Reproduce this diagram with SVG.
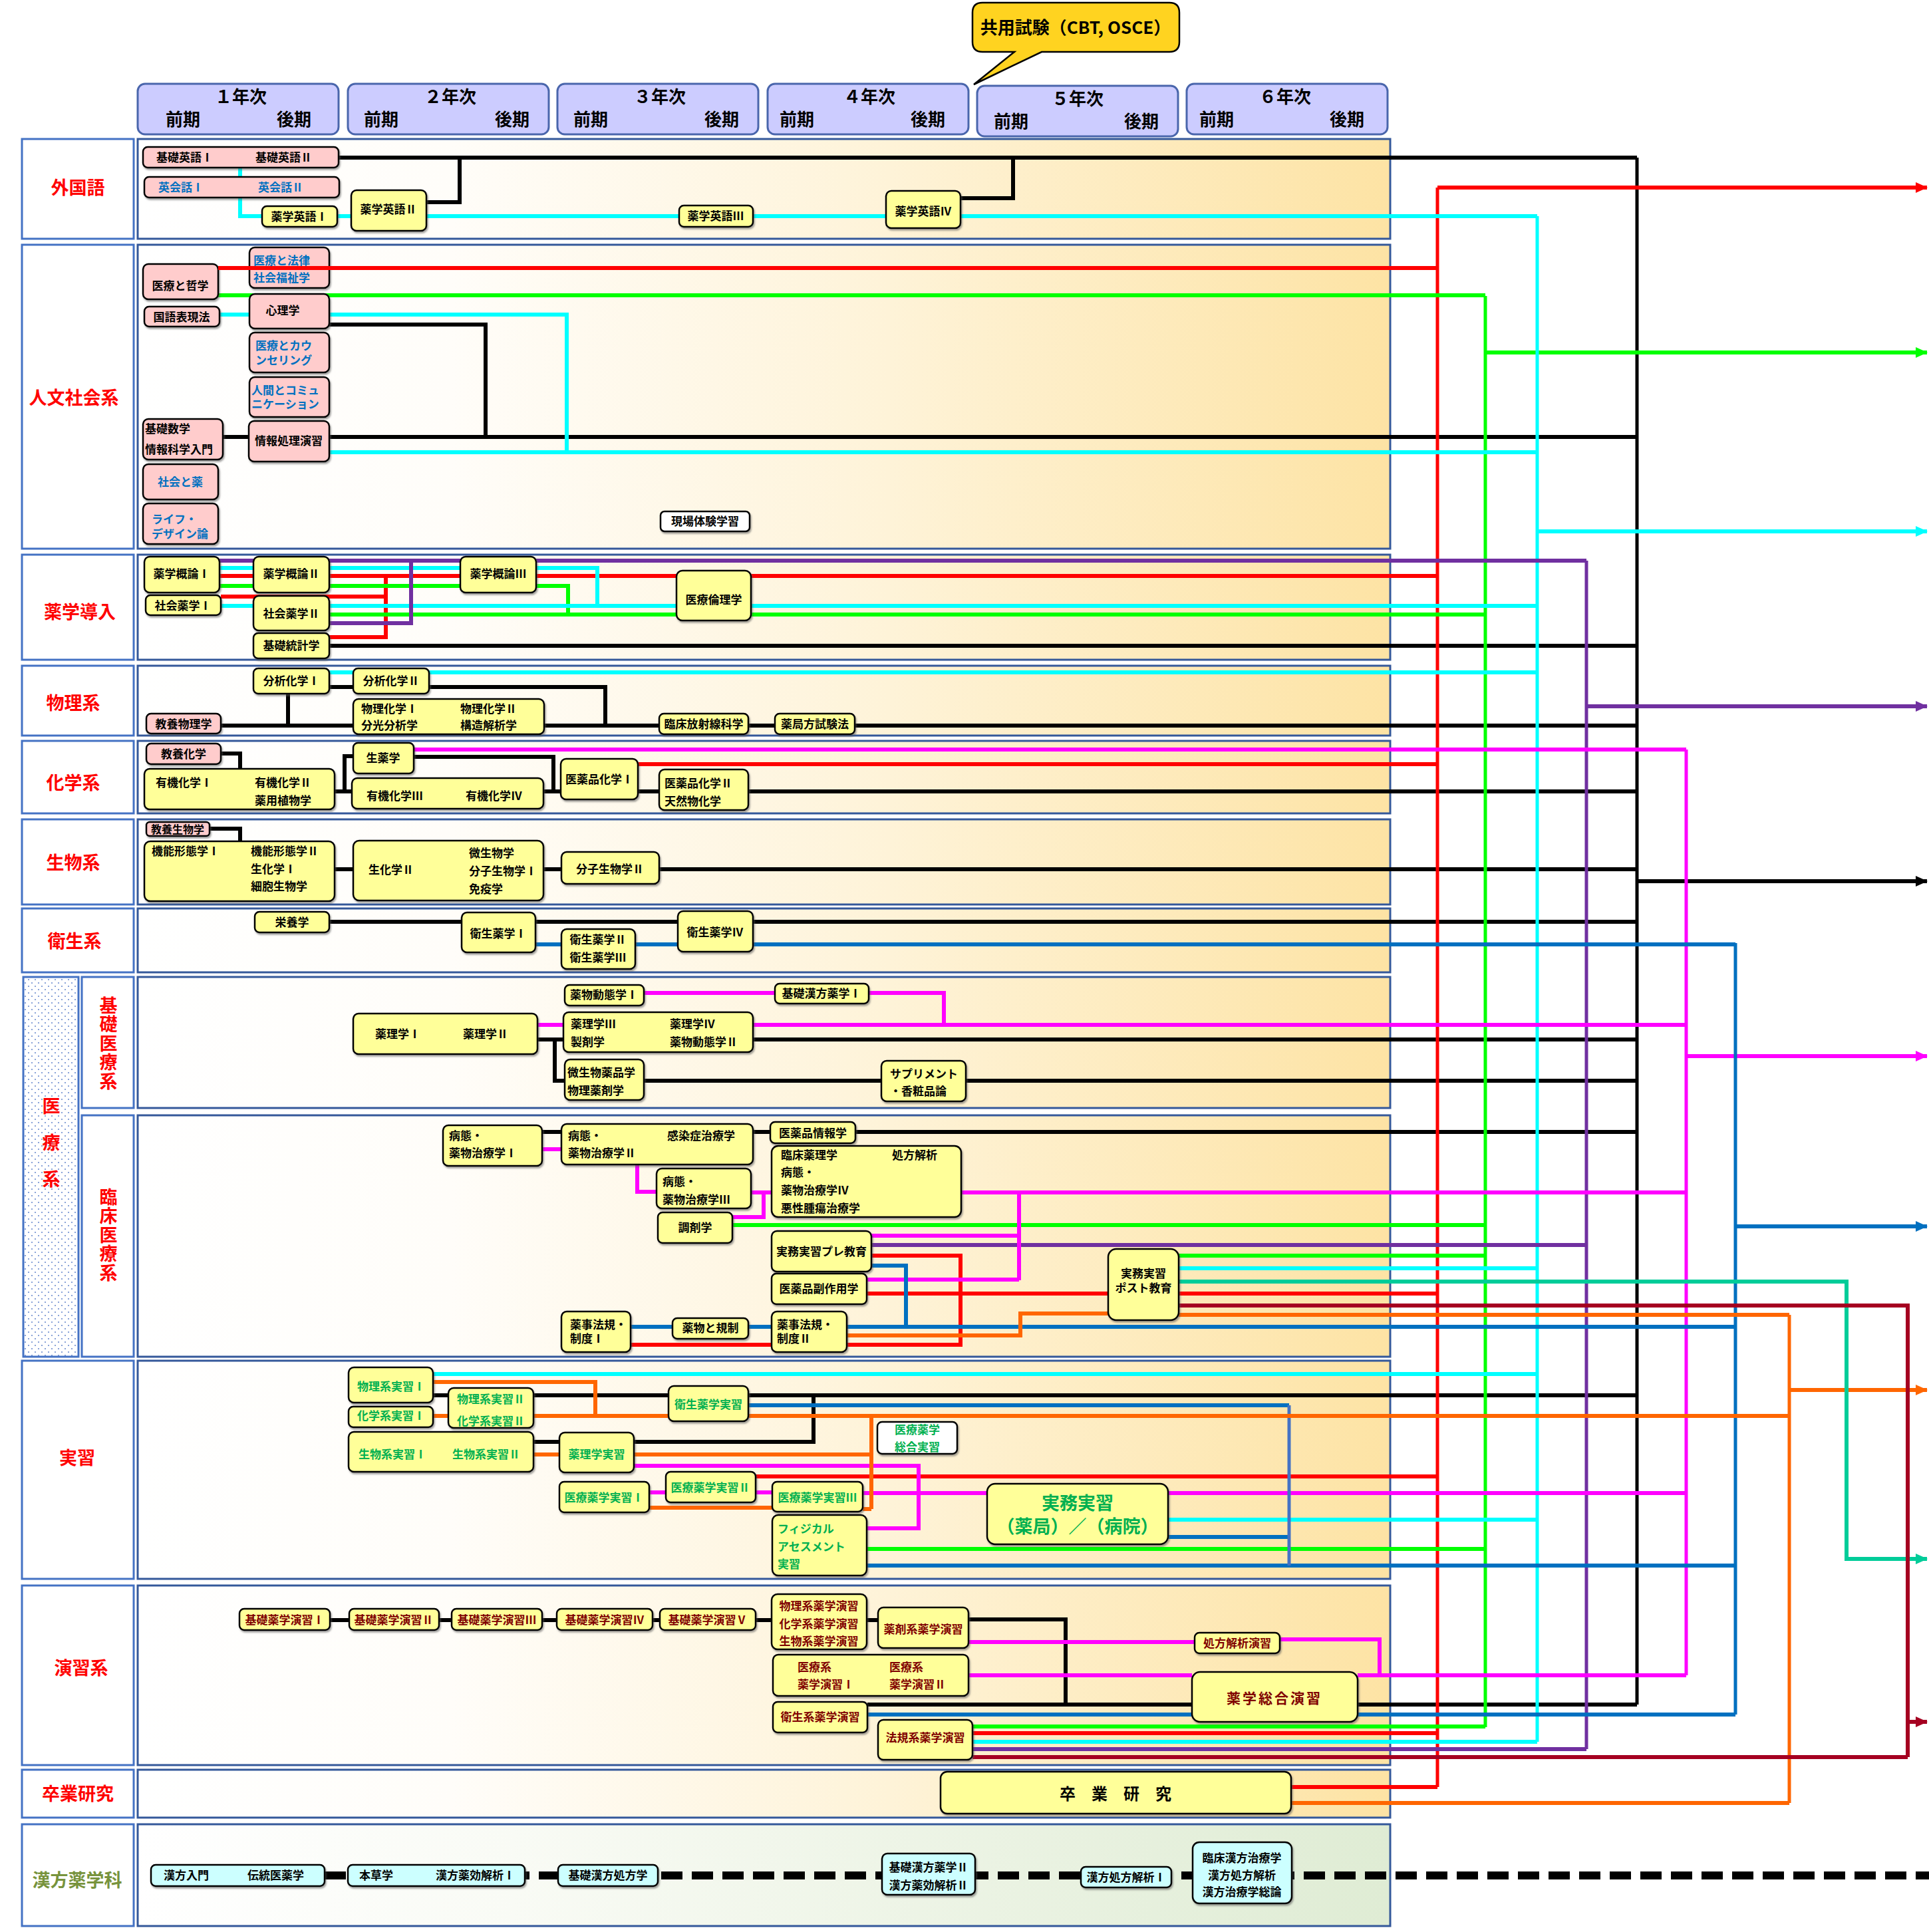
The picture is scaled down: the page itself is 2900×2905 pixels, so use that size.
<svg xmlns="http://www.w3.org/2000/svg" width="2900" height="2905" viewBox="0 0 2900 2905">
<style>
text{font-family:"Noto Sans CJK JP","Noto Sans CJK SC",sans-serif;font-weight:bold;font-size:17px;fill:#000}
.c{text-anchor:middle}
.bl{fill:#0070C0}
.gr{fill:#00B050}
.mr{fill:#7F0000}
.lab{font-size:27px;fill:#FF0000;text-anchor:middle}
.vl{font-size:27px;fill:#FF0000;writing-mode:vertical-rl}
.hd{font-size:26px}
.n{fill:#FFFF99;stroke:#000;stroke-width:2.5;filter:url(#sh)}
.p{fill:#FFCCCC;stroke:#000;stroke-width:2.5;filter:url(#sh)}
.w{fill:#FFFFFF;stroke:#000;stroke-width:2.5;filter:url(#sh)}
.k{fill:#CCFFFF;stroke:#000;stroke-width:2.5;filter:url(#sh)}
.lb{fill:#FFFFFF;stroke:#4472C4;stroke-width:3}
.cb{fill:url(#gO);stroke:#34589A;stroke-width:3}
.yr{fill:#CCCCFF;stroke:#4A66AC;stroke-width:3}
.l{fill:none;stroke-width:6;stroke-linejoin:miter}
.tr{fill:none;stroke-width:5}
.K{stroke:#000}.R{stroke:#FF0000}.G{stroke:#00FF00}.C{stroke:#00FFFF}.P{stroke:#7030A0}.M{stroke:#FF00FF}.B{stroke:#0070C0}.O{stroke:#FF6600}.T{stroke:#00CC99}.D{stroke:#A50021}
</style>
<defs>
<filter id="sh" x="-5%" y="-5%" width="115%" height="125%"><feDropShadow dx="1.5" dy="2.5" stdDeviation="0.8" flood-color="#555" flood-opacity="0.55"/></filter>
<linearGradient id="gO" x1="0" y1="0" x2="1" y2="0"><stop offset="0" stop-color="#FFFFFF"/><stop offset="0.25" stop-color="#FFFDF9"/><stop offset="0.6" stop-color="#FEF3D8"/><stop offset="1" stop-color="#FDE3A4"/></linearGradient>
<linearGradient id="gK" x1="0" y1="0" x2="1" y2="0"><stop offset="0" stop-color="#FFFFFF"/><stop offset="0.3" stop-color="#F9FBF5"/><stop offset="1" stop-color="#DFECD4"/></linearGradient>
<pattern id="dots" width="10" height="10" patternUnits="userSpaceOnUse"><rect width="10" height="10" fill="#FFFFFF"/><circle cx="3" cy="3" r="1.1" fill="#6F8FCF"/><circle cx="8" cy="8" r="1.1" fill="#6F8FCF"/></pattern>
<marker id="aR" markerUnits="userSpaceOnUse" markerWidth="18" markerHeight="16" refX="17" refY="8" orient="auto"><path d="M0,0 L18,8 L0,16 Z" fill="#FF0000"/></marker>
<marker id="aG" markerUnits="userSpaceOnUse" markerWidth="18" markerHeight="16" refX="17" refY="8" orient="auto"><path d="M0,0 L18,8 L0,16 Z" fill="#00FF00"/></marker>
<marker id="aC" markerUnits="userSpaceOnUse" markerWidth="18" markerHeight="16" refX="17" refY="8" orient="auto"><path d="M0,0 L18,8 L0,16 Z" fill="#00FFFF"/></marker>
<marker id="aP" markerUnits="userSpaceOnUse" markerWidth="18" markerHeight="16" refX="17" refY="8" orient="auto"><path d="M0,0 L18,8 L0,16 Z" fill="#7030A0"/></marker>
<marker id="aK" markerUnits="userSpaceOnUse" markerWidth="18" markerHeight="16" refX="17" refY="8" orient="auto"><path d="M0,0 L18,8 L0,16 Z" fill="#000000"/></marker>
<marker id="aM" markerUnits="userSpaceOnUse" markerWidth="18" markerHeight="16" refX="17" refY="8" orient="auto"><path d="M0,0 L18,8 L0,16 Z" fill="#FF00FF"/></marker>
<marker id="aB" markerUnits="userSpaceOnUse" markerWidth="18" markerHeight="16" refX="17" refY="8" orient="auto"><path d="M0,0 L18,8 L0,16 Z" fill="#0070C0"/></marker>
<marker id="aO" markerUnits="userSpaceOnUse" markerWidth="18" markerHeight="16" refX="17" refY="8" orient="auto"><path d="M0,0 L18,8 L0,16 Z" fill="#FF6600"/></marker>
<marker id="aT" markerUnits="userSpaceOnUse" markerWidth="18" markerHeight="16" refX="17" refY="8" orient="auto"><path d="M0,0 L18,8 L0,16 Z" fill="#00CC99"/></marker>
<marker id="aD" markerUnits="userSpaceOnUse" markerWidth="18" markerHeight="16" refX="17" refY="8" orient="auto"><path d="M0,0 L18,8 L0,16 Z" fill="#A50021"/></marker>
</defs>
<rect width="2900" height="2905" fill="#FFFFFF"/>

<g id="header">
<rect class="yr" x="207" y="126" width="302" height="76" rx="11"/>
<rect class="yr" x="523" y="126" width="302" height="76" rx="11"/>
<rect class="yr" x="838" y="126" width="302" height="76" rx="11"/>
<rect class="yr" x="1154" y="126" width="302" height="76" rx="11"/>
<rect class="yr" x="1469" y="129" width="302" height="76" rx="11"/>
<rect class="yr" x="1784" y="126" width="302" height="76" rx="11"/>
<text class="hd c" x="362" y="155">１年次</text><text class="hd c" x="275" y="189">前期</text><text class="hd c" x="442" y="189">後期</text>
<text class="hd c" x="677" y="155">２年次</text><text class="hd c" x="573" y="189">前期</text><text class="hd c" x="770" y="189">後期</text>
<text class="hd c" x="992" y="155">３年次</text><text class="hd c" x="888" y="189">前期</text><text class="hd c" x="1085" y="189">後期</text>
<text class="hd c" x="1307" y="155">４年次</text><text class="hd c" x="1198" y="189">前期</text><text class="hd c" x="1395" y="189">後期</text>
<text class="hd c" x="1620" y="158">５年次</text><text class="hd c" x="1520" y="192">前期</text><text class="hd c" x="1716" y="192">後期</text>
<text class="hd c" x="1932" y="155">６年次</text><text class="hd c" x="1829" y="189">前期</text><text class="hd c" x="2025" y="189">後期</text>
</g>
<g id="callout">
<path d="M1477,4 H1758 Q1773,4 1773,19 V63 Q1773,78 1758,78 H1566 L1464,127 L1525,78 H1477 Q1462,78 1462,63 V19 Q1462,4 1477,4 Z" fill="#FFD320" stroke="#000" stroke-width="2.5"/>
<text class="c" x="1617" y="51" style="font-size:26px">共用試験（CBT, OSCE）</text>
</g>

<g id="sections">
<rect class="lb" x="33" y="209" width="168" height="150"/><rect class="cb" x="207" y="209" width="1883" height="150"/>
<rect class="lb" x="33" y="368" width="168" height="457"/><rect class="cb" x="207" y="368" width="1883" height="457"/>
<rect class="lb" x="33" y="834" width="168" height="158"/><rect class="cb" x="207" y="834" width="1883" height="158"/>
<rect class="lb" x="33" y="1001" width="168" height="105"/><rect class="cb" x="207" y="1001" width="1883" height="105"/>
<rect class="lb" x="33" y="1114" width="168" height="109"/><rect class="cb" x="207" y="1114" width="1883" height="109"/>
<rect class="lb" x="33" y="1232" width="168" height="128"/><rect class="cb" x="207" y="1232" width="1883" height="128"/>
<rect class="lb" x="33" y="1366" width="168" height="96"/><rect class="cb" x="207" y="1366" width="1883" height="96"/>
<rect x="35" y="1469" width="83" height="571" fill="url(#dots)" stroke="#4472C4" stroke-width="3"/>
<rect class="lb" x="123" y="1469" width="78" height="197"/><rect class="cb" x="207" y="1469" width="1883" height="197"/>
<rect class="lb" x="123" y="1677" width="78" height="363"/><rect class="cb" x="207" y="1677" width="1883" height="363"/>
<rect class="lb" x="33" y="2046" width="168" height="328"/><rect class="cb" x="207" y="2046" width="1883" height="328"/>
<rect class="lb" x="33" y="2384" width="168" height="270"/><rect class="cb" x="207" y="2384" width="1883" height="270"/>
<rect class="lb" x="33" y="2661" width="168" height="72"/><rect class="cb" x="207" y="2661" width="1883" height="72"/>
<rect class="lb" x="33" y="2743" width="168" height="153"/><rect x="207" y="2743" width="1883" height="153" fill="url(#gK)" stroke="#34589A" stroke-width="3"/>
<text class="lab" x="117" y="292">外国語</text>
<text class="lab" x="111" y="608">人文社会系</text>
<text class="lab" x="120" y="930">薬学導入</text>
<text class="lab" x="110" y="1067">物理系</text>
<text class="lab" x="110" y="1187">化学系</text>
<text class="lab" x="110" y="1307">生物系</text>
<text class="lab" x="112" y="1425">衛生系</text>
<text class="vl" x="77" y="1649" style="letter-spacing:28px">医療系</text>
<text class="vl" x="163" y="1498" style="letter-spacing:1.5px">基礎医療系</text>
<text class="vl" x="163" y="1786" style="letter-spacing:1.5px">臨床医療系</text>
<text class="lab" x="116" y="2202">実習</text>
<text class="lab" x="122" y="2518">演習系</text>
<text class="lab" x="117" y="2707">卒業研究</text>
<text class="lab" x="116" y="2837" style="fill:#77933C">漢方薬学科</text>
</g>

<g id="connectors">
<path class="tr K" d="M2461,237 V2563"/>
<path class="l K" d="M509,237 H2461 M641,304 H691 V237 M1444,298 H1523 V237"/>
<path class="l K" d="M495,488 H730 V657 M335,657 H374 M495,657 H2461 M495,971 H2461"/>
<path class="l K" d="M495,1033 H531 M645,1033 H910 V1091 M433,1043 V1091 M332,1091 H531 M818,1091 H991 M1125,1091 H1165 M1285,1091 H2461"/>
<path class="l K" d="M332,1133 H361 V1156 M503,1190 H529 M518,1190 V1137 H531 M622,1138 H832 V1190 M817,1190 H843 M959,1190 H991 M1125,1190 H2461"/>
<path class="l K" d="M315,1246 H361 V1265 M503,1307 H531 M817,1307 H844 M991,1307 H2461"/>
<path class="l K" d="M495,1386 H694 M805,1386 H1019 M1132,1386 H2461"/>
<path class="l K" d="M808,1563 H847 M1132,1563 H2461 M834,1563 V1625 H849 M968,1625 H1325 M1452,1625 H2461"/>
<path class="l K" d="M815,1702 H844 M1132,1702 H1158 M1286,1702 H2461"/>
<path class="l K" d="M651,2098 H674 M802,2098 H1005 M1125,2098 H2461 M1223,2098 V2168 H953 M802,2168 H841"/>
<path class="l K" d="M496,2436 H525 M660,2436 H679 M815,2436 H837 M981,2436 H992 M1136,2436 H1160 M1303,2436 H1320 M1456,2435 H1602 V2563 M1304,2563 H1792 M2041,2563 H2461"/>
<path class="l K" d="M2461,1325 H2897" marker-end="url(#aK)"/>
<path class="tr R" d="M2161,282 V2687"/>
<path class="l R" d="M2161,282 H2897" marker-end="url(#aR)"/>
<path class="l R" d="M330,866 H381 M495,866 H692 M806,866 H1017 M1129,866 H2161 M332,897 H580 V958 H495 M580,866 V897"/>
<path class="l R" d="M959,1149 H2161"/>
<path class="l R" d="M1310,1888 H1444 V2022 H1273 M948,2022 H1160 M1303,1945 H1666 M1772,1945 H2161"/>
<path class="l R" d="M1136,2220 H2161 M1462,2606 H2161 M1941,2687 H2161"/>
<path class="tr G" d="M2233,445 V2597"/>
<path class="l G" d="M2233,530 H2897" marker-end="url(#aG)"/>
<path class="l G" d="M328,444 H2233"/>
<path class="l G" d="M330,881 H381 M495,881 H692 M806,881 H854 V924 M495,924 H1017 M1129,924 H2233"/>
<path class="l G" d="M1101,1842 H2233 M1772,1888 H2233 M1303,2329 H2233 M1462,2596 H2233"/>
<path class="tr C" d="M2311,325 V2619"/>
<path class="l C" d="M2311,799 H2897" marker-end="url(#aC)"/>
<path class="l C" d="M361,252 V325 H394 M507,325 H528 M641,325 H1021 M1132,325 H1332 M1444,325 H2311"/>
<path class="l C" d="M330,473 H375 M495,473 H852 V680 M496,680 H2311"/>
<path class="l C" d="M330,854 H381 M495,854 H692 M806,854 H898 V911 M332,911 H1017 M1129,911 H2311"/>
<path class="l C" d="M495,1011 H2311"/>
<path class="l C" d="M1772,1907 H2311 M651,2066 H2311 M1756,2285 H2311 M1462,2619 H2311"/>
<path class="tr P" d="M2385,843 V2630"/>
<path class="l P" d="M2385,1062 H2897" marker-end="url(#aP)"/>
<path class="l P" d="M330,843 H381 M495,843 H692 M806,843 H2385 M618,843 V937 H495"/>
<path class="l P" d="M1310,1872 H2385 M1462,2630 H2385"/>
<path class="tr M" d="M2535,1127 V2519"/>
<path class="l M" d="M2535,1588 H2897" marker-end="url(#aM)"/>
<path class="l M" d="M622,1127 H2535"/>
<path class="l M" d="M968,1493 H1165 M1306,1493 H1419 V1541 M808,1541 H847 M1132,1541 H2535"/>
<path class="l M" d="M815,1728 H844 M958,1751 V1792 H987 M1129,1793 H1160 M1101,1830 H1148 V1793 M1445,1793 H2535 M1532,1793 V1925 M1310,1858 H1532 M1303,1924 H1532"/>
<path class="l M" d="M953,2204 H1381 V2298 H1303 M976,2244 H1001 M1136,2244 H1161 M1297,2245 H1484 M1756,2245 H2535"/>
<path class="l M" d="M1456,2469 H1796 M1924,2465 H2074 V2519 M1456,2519 H1792 M2041,2519 H2535"/>
<path class="tr B" d="M2609,1418 V2578"/>
<path class="l B" d="M2609,1844 H2897" marker-end="url(#aB)"/>
<path class="l B" d="M805,1420 H844 M955,1420 H1019 M1132,1420 H2609"/>
<path class="l B" d="M1310,1903 H1362 V1995 M948,1995 H1011 M1125,1995 H1160 M1273,1995 H2609"/>
<path class="l B" d="M1125,2113 H1938 M1756,2311 H1938 M1303,2354 H2609 M1304,2578 H2609"/>
<path class="tr" d="M1938,2113 V2354" stroke="#4472C4" stroke-width="4"/>
<path class="tr O" d="M2690,1977 V2711"/>
<path class="l O" d="M2690,2090 H2897" marker-end="url(#aO)"/>
<path class="l O" d="M1273,2008 H1534 V1975 H1666 M1772,1977 H2690"/>
<path class="l O" d="M651,2078 H895 V2129 M651,2129 H674 M802,2129 H1005 M1125,2129 H2690 M1310,2129 V2269 M953,2187 H1310 M802,2187 H841 M976,2267 H1161 M1297,2269 H1310"/>
<path class="l O" d="M1941,2711 H2690"/>
<path class="l T" d="M1772,1927 H2776 V2344 H2897" marker-end="url(#aT)"/>
<path class="l D" d="M1772,1963 H2868 V2642 M1462,2642 H2868"/>
<path class="l D" d="M2868,2589 H2897" marker-end="url(#aD)"/>
<path d="M488,2820 H2900" fill="none" stroke="#000" stroke-width="12" stroke-dasharray="32 14"/>
</g>

<g id="nodes">
<g id="n-kisoeigo"><rect class="p" x="215" y="221" width="294" height="31" rx="7"/><text x="235" y="243">基礎英語Ⅰ</text><text x="384" y="243">基礎英語Ⅱ</text></g>
<g id="n-eikaiwa"><rect class="p" x="217" y="266" width="293" height="31" rx="7"/><text class="bl" x="238" y="288">英会話Ⅰ</text><text class="bl" x="388" y="288">英会話Ⅱ</text></g>
<g id="n-eigo1"><rect class="n" x="394" y="310" width="113" height="31" rx="7"/><text class="c" x="450" y="332">薬学英語Ⅰ</text></g>
<g id="n-eigo2"><rect class="n" x="528" y="286" width="113" height="61" rx="8"/><text class="c" x="584" y="321">薬学英語Ⅱ</text></g>
<g id="n-eigo3"><rect class="n" x="1021" y="309" width="111" height="32" rx="7"/><text class="c" x="1076" y="331">薬学英語Ⅲ</text></g>
<g id="n-eigo4"><rect class="n" x="1332" y="287" width="112" height="56" rx="8"/><text class="c" x="1388" y="324">薬学英語Ⅳ</text></g>

<g id="n-tetsugaku"><rect class="p" x="215" y="397" width="113" height="53" rx="8"/><text class="c" x="271" y="436">医療と哲学</text></g>
<g id="n-horitsu"><rect class="p" x="375" y="372" width="120" height="61" rx="8"/><text class="bl" x="381" y="398">医療と法律</text><text class="bl" x="381" y="424">社会福祉学</text></g>
<g id="n-kokugo"><rect class="p" x="217" y="461" width="113" height="30" rx="7"/><text class="c" x="273" y="483">国語表現法</text></g>
<g id="n-shinri"><rect class="p" x="375" y="442" width="120" height="52" rx="8"/><text class="c" x="425" y="473">心理学</text></g>
<g id="n-counsel"><rect class="p" x="375" y="500" width="120" height="60" rx="8"/><text class="bl" x="384" y="526">医療とカウ</text><text class="bl" x="384" y="548">ンセリング</text></g>
<g id="n-comm"><rect class="p" x="375" y="567" width="120" height="60" rx="8"/><text class="bl" x="378" y="593">人間とコミュ</text><text class="bl" x="378" y="614">ニケーション</text></g>
<g id="n-joho"><rect class="p" x="374" y="633" width="121" height="61" rx="8"/><text class="c" x="434" y="669">情報処理演習</text></g>
<g id="n-sugaku"><rect class="p" x="215" y="630" width="120" height="61" rx="8"/><text x="218" y="651">基礎数学</text><text x="218" y="682">情報科学入門</text></g>
<g id="n-shakaikusuri"><rect class="p" x="215" y="698" width="113" height="53" rx="8"/><text class="bl c" x="271" y="731">社会と薬</text></g>
<g id="n-life"><rect class="p" x="215" y="757" width="113" height="61" rx="8"/><text class="bl" x="228" y="787">ライフ・</text><text class="bl" x="228" y="809">デザイン論</text></g>
<g id="n-genba"><rect class="w" x="993" y="769" width="134" height="30" rx="6"/><text class="c" x="1060" y="790">現場体験学習</text></g>

<g id="n-gairon1"><rect class="n" x="217" y="837" width="113" height="54" rx="8"/><text class="c" x="273" y="869">薬学概論Ⅰ</text></g>
<g id="n-shakai1"><rect class="n" x="219" y="895" width="113" height="30" rx="7"/><text class="c" x="275" y="917">社会薬学Ⅰ</text></g>
<g id="n-gairon2"><rect class="n" x="381" y="837" width="114" height="54" rx="8"/><text class="c" x="438" y="869">薬学概論Ⅱ</text></g>
<g id="n-shakai2"><rect class="n" x="381" y="896" width="114" height="52" rx="8"/><text class="c" x="438" y="929">社会薬学Ⅱ</text></g>
<g id="n-tokei"><rect class="n" x="381" y="952" width="114" height="38" rx="7"/><text class="c" x="438" y="977">基礎統計学</text></g>
<g id="n-gairon3"><rect class="n" x="692" y="837" width="114" height="54" rx="8"/><text class="c" x="749" y="869">薬学概論Ⅲ</text></g>
<g id="n-rinri"><rect class="n" x="1017" y="858" width="112" height="75" rx="9"/><text class="c" x="1073" y="908">医療倫理学</text></g>

<g id="n-bunseki1"><rect class="n" x="381" y="1005" width="114" height="38" rx="7"/><text class="c" x="438" y="1030">分析化学Ⅰ</text></g>
<g id="n-bunseki2"><rect class="n" x="531" y="1005" width="114" height="38" rx="7"/><text class="c" x="588" y="1030">分析化学Ⅱ</text></g>
<g id="n-butsuri"><rect class="n" x="531" y="1051" width="287" height="53" rx="8"/><text x="543" y="1072">物理化学Ⅰ</text><text x="692" y="1072">物理化学Ⅱ</text><text x="543" y="1097">分光分析学</text><text x="692" y="1097">構造解析学</text></g>
<g id="n-kyoyobutsuri"><rect class="p" x="220" y="1073" width="112" height="30" rx="7"/><text class="c" x="276" y="1095">教養物理学</text></g>
<g id="n-hoshasen"><rect class="n" x="991" y="1073" width="134" height="31" rx="7"/><text class="c" x="1058" y="1095">臨床放射線科学</text></g>
<g id="n-kyokuho"><rect class="n" x="1165" y="1073" width="120" height="31" rx="7"/><text class="c" x="1225" y="1095">薬局方試験法</text></g>

<g id="n-kyoyokagaku"><rect class="p" x="220" y="1118" width="112" height="31" rx="7"/><text class="c" x="276" y="1140">教養化学</text></g>
<g id="n-yuki12"><rect class="n" x="217" y="1156" width="286" height="61" rx="8"/><text x="234" y="1183">有機化学Ⅰ</text><text x="383" y="1183">有機化学Ⅱ</text><text x="383" y="1210">薬用植物学</text></g>
<g id="n-shoyaku"><rect class="n" x="531" y="1117" width="91" height="46" rx="7"/><text class="c" x="576" y="1146">生薬学</text></g>
<g id="n-yuki34"><rect class="n" x="529" y="1170" width="288" height="46" rx="8"/><text x="551" y="1203">有機化学Ⅲ</text><text x="700" y="1203">有機化学Ⅳ</text></g>
<g id="n-iyakuhin1"><rect class="n" x="843" y="1141" width="116" height="61" rx="8"/><text class="c" x="901" y="1178">医薬品化学Ⅰ</text></g>
<g id="n-iyakuhin2"><rect class="n" x="991" y="1157" width="134" height="61" rx="8"/><text x="999" y="1184">医薬品化学Ⅱ</text><text x="999" y="1211">天然物化学</text></g>

<g id="n-kyoyoseibutsu"><rect class="p" x="220" y="1236" width="95" height="21" rx="5"/><text class="c" x="267" y="1253" style="font-size:16px">教養生物学</text></g>
<g id="n-kino"><rect class="n" x="217" y="1265" width="286" height="90" rx="9"/><text x="228" y="1286">機能形態学Ⅰ</text><text x="377" y="1286">機能形態学Ⅱ</text><text x="377" y="1313">生化学Ⅰ</text><text x="377" y="1339">細胞生物学</text></g>
<g id="n-seika2"><rect class="n" x="531" y="1264" width="286" height="90" rx="9"/><text x="554" y="1314">生化学Ⅱ</text><text x="705" y="1289">微生物学</text><text x="705" y="1316">分子生物学Ⅰ</text><text x="705" y="1343">免疫学</text></g>
<g id="n-bunshi2"><rect class="n" x="844" y="1281" width="147" height="48" rx="8"/><text class="c" x="917" y="1313">分子生物学Ⅱ</text></g>

<g id="n-eiyo"><rect class="n" x="383" y="1371" width="112" height="31" rx="7"/><text class="c" x="439" y="1393">栄養学</text></g>
<g id="n-eisei1"><rect class="n" x="694" y="1372" width="111" height="60" rx="8"/><text class="c" x="749" y="1410">衛生薬学Ⅰ</text></g>
<g id="n-eisei23"><rect class="n" x="844" y="1397" width="111" height="60" rx="8"/><text class="c" x="899" y="1419">衛生薬学Ⅱ</text><text class="c" x="899" y="1446">衛生薬学Ⅲ</text></g>
<g id="n-eisei4"><rect class="n" x="1019" y="1370" width="113" height="61" rx="8"/><text class="c" x="1075" y="1408">衛生薬学Ⅳ</text></g>

<g id="n-dotai1"><rect class="n" x="849" y="1481" width="119" height="31" rx="7"/><text class="c" x="908" y="1502">薬物動態学Ⅰ</text></g>
<g id="n-kanpo1"><rect class="n" x="1165" y="1479" width="141" height="30" rx="7"/><text class="c" x="1235" y="1500">基礎漢方薬学Ⅰ</text></g>
<g id="n-yakuri12"><rect class="n" x="531" y="1524" width="277" height="61" rx="8"/><text x="564" y="1561">薬理学Ⅰ</text><text x="696" y="1561">薬理学Ⅱ</text></g>
<g id="n-yakuri34"><rect class="n" x="847" y="1522" width="285" height="60" rx="8"/><text x="858" y="1546">薬理学Ⅲ</text><text x="1007" y="1546">薬理学Ⅳ</text><text x="858" y="1573">製剤学</text><text x="1007" y="1573">薬物動態学Ⅱ</text></g>
<g id="n-biseibutsu"><rect class="n" x="849" y="1593" width="119" height="61" rx="8"/><text x="853" y="1619">微生物薬品学</text><text x="853" y="1646">物理薬剤学</text></g>
<g id="n-supple"><rect class="n" x="1325" y="1595" width="127" height="61" rx="8"/><text x="1338" y="1621">サプリメント</text><text x="1338" y="1647">・香粧品論</text></g>

<g id="n-byotai1"><rect class="n" x="666" y="1692" width="149" height="61" rx="8"/><text x="675" y="1714">病態・</text><text x="675" y="1740">薬物治療学Ⅰ</text></g>
<g id="n-byotai2"><rect class="n" x="844" y="1690" width="288" height="61" rx="8"/><text x="854" y="1714">病態・</text><text x="854" y="1740">薬物治療学Ⅱ</text><text x="1003" y="1714">感染症治療学</text></g>
<g id="n-di"><rect class="n" x="1158" y="1687" width="128" height="32" rx="7"/><text class="c" x="1222" y="1710">医薬品情報学</text></g>
<g id="n-rinsho"><rect class="n" x="1160" y="1723" width="285" height="107" rx="10"/><text x="1174" y="1743">臨床薬理学</text><text x="1341" y="1743">処方解析</text><text x="1174" y="1769">病態・</text><text x="1174" y="1796">薬物治療学Ⅳ</text><text x="1174" y="1823">悪性腫瘍治療学</text></g>
<g id="n-byotai3"><rect class="n" x="987" y="1757" width="142" height="60" rx="8"/><text x="996" y="1783">病態・</text><text x="996" y="1810">薬物治療学Ⅲ</text></g>
<g id="n-chozai"><rect class="n" x="989" y="1823" width="112" height="46" rx="7"/><text class="c" x="1045" y="1852">調剤学</text></g>
<g id="n-pre"><rect class="n" x="1160" y="1851" width="150" height="61" rx="8"/><text class="c" x="1235" y="1888">実務実習プレ教育</text></g>
<g id="n-fukusayo"><rect class="n" x="1160" y="1915" width="143" height="46" rx="7"/><text class="c" x="1231" y="1944">医薬品副作用学</text></g>
<g id="n-hoki1"><rect class="n" x="844" y="1972" width="104" height="61" rx="8"/><text x="857" y="1998">薬事法規・</text><text x="857" y="2019">制度Ⅰ</text></g>
<g id="n-kisei"><rect class="n" x="1011" y="1982" width="114" height="31" rx="7"/><text class="c" x="1068" y="2003">薬物と規制</text></g>
<g id="n-hoki2"><rect class="n" x="1160" y="1972" width="113" height="61" rx="8"/><text x="1168" y="1998">薬事法規・</text><text x="1168" y="2019">制度Ⅱ</text></g>
<g id="n-post"><rect class="n" x="1666" y="1878" width="106" height="107" rx="12"/><text class="c" x="1719" y="1921">実務実習</text><text class="c" x="1719" y="1943">ポスト教育</text></g>

<g id="n-butsurijisshu1"><rect class="n" x="524" y="2056" width="127" height="53" rx="8"/><text class="gr c" x="588" y="2091">物理系実習Ⅰ</text></g>
<g id="n-kagakujisshu1"><rect class="n" x="524" y="2115" width="127" height="31" rx="7"/><text class="gr c" x="588" y="2135">化学系実習Ⅰ</text></g>
<g id="n-jisshu2"><rect class="n" x="674" y="2087" width="128" height="60" rx="8"/><text class="gr c" x="738" y="2110">物理系実習Ⅱ</text><text class="gr c" x="738" y="2143">化学系実習Ⅱ</text></g>
<g id="n-seibutsujisshu"><rect class="n" x="524" y="2153" width="278" height="60" rx="8"/><text class="gr" x="539" y="2193">生物系実習Ⅰ</text><text class="gr" x="680" y="2193">生物系実習Ⅱ</text></g>
<g id="n-eiseijisshu"><rect class="n" x="1005" y="2084" width="120" height="53" rx="8"/><text class="gr c" x="1065" y="2118">衛生薬学実習</text></g>
<g id="n-yakurijisshu"><rect class="n" x="841" y="2154" width="112" height="60" rx="8"/><text class="gr c" x="897" y="2193">薬理学実習</text></g>
<g id="n-iryo1"><rect class="n" x="841" y="2228" width="135" height="46" rx="7"/><text class="gr c" x="908" y="2258">医療薬学実習Ⅰ</text></g>
<g id="n-iryo2"><rect class="n" x="1001" y="2213" width="135" height="46" rx="7"/><text class="gr c" x="1068" y="2243">医療薬学実習Ⅱ</text></g>
<g id="n-iryo3"><rect class="n" x="1161" y="2228" width="136" height="45" rx="7"/><text class="gr c" x="1229" y="2258">医療薬学実習Ⅲ</text></g>
<g id="n-physical"><rect class="n" x="1161" y="2278" width="142" height="91" rx="9"/><text class="gr" x="1169" y="2305">フィジカル</text><text class="gr" x="1169" y="2332">アセスメント</text><text class="gr" x="1169" y="2358">実習</text></g>
<g id="n-sogojisshu"><rect class="w" x="1319" y="2138" width="120" height="48" rx="7"/><text class="gr c" x="1379" y="2156">医療薬学</text><text class="gr c" x="1379" y="2182">総合実習</text></g>
<g id="n-jitsumu"><rect class="n" x="1484" y="2231" width="272" height="91" rx="12"/><text class="gr c" x="1620" y="2270" style="font-size:27px">実務実習</text><text class="gr c" x="1620" y="2305" style="font-size:27px">（薬局）／（病院）</text></g>

<g id="n-ensh1"><rect class="n" x="360" y="2419" width="136" height="32" rx="7"/><text class="mr c" x="428" y="2442">基礎薬学演習Ⅰ</text></g>
<g id="n-ensh2"><rect class="n" x="525" y="2419" width="135" height="32" rx="7"/><text class="mr c" x="592" y="2442">基礎薬学演習Ⅱ</text></g>
<g id="n-ensh3"><rect class="n" x="679" y="2419" width="136" height="32" rx="7"/><text class="mr c" x="747" y="2442">基礎薬学演習Ⅲ</text></g>
<g id="n-ensh4"><rect class="n" x="837" y="2419" width="144" height="32" rx="7"/><text class="mr c" x="909" y="2442">基礎薬学演習Ⅳ</text></g>
<g id="n-ensh5"><rect class="n" x="992" y="2419" width="144" height="32" rx="7"/><text class="mr c" x="1064" y="2442">基礎薬学演習Ⅴ</text></g>
<g id="n-ensh-pcb"><rect class="n" x="1160" y="2397" width="143" height="83" rx="9"/><text class="mr c" x="1231" y="2421">物理系薬学演習</text><text class="mr c" x="1231" y="2448">化学系薬学演習</text><text class="mr c" x="1231" y="2474">生物系薬学演習</text></g>
<g id="n-ensh-yakuzai"><rect class="n" x="1320" y="2417" width="136" height="61" rx="8"/><text class="mr c" x="1388" y="2456">薬剤系薬学演習</text></g>
<g id="n-ensh-iryo"><rect class="n" x="1162" y="2488" width="294" height="62" rx="8"/><text class="mr" x="1199" y="2513">医療系</text><text class="mr" x="1199" y="2539">薬学演習Ⅰ</text><text class="mr" x="1337" y="2513">医療系</text><text class="mr" x="1337" y="2539">薬学演習Ⅱ</text></g>
<g id="n-ensh-eisei"><rect class="n" x="1162" y="2559" width="142" height="46" rx="7"/><text class="mr c" x="1233" y="2588">衛生系薬学演習</text></g>
<g id="n-ensh-hoki"><rect class="n" x="1320" y="2586" width="142" height="60" rx="8"/><text class="mr c" x="1391" y="2619">法規系薬学演習</text></g>
<g id="n-shohoensh"><rect class="n" x="1796" y="2455" width="128" height="31" rx="7"/><text class="mr c" x="1860" y="2477">処方解析演習</text></g>
<g id="n-sogoensh"><rect class="n" x="1792" y="2514" width="249" height="75" rx="12"/><text class="mr c" x="1916" y="2561" style="font-size:21px;letter-spacing:3px">薬学総合演習</text></g>

<g id="n-sotsuken"><rect class="n" x="1414" y="2664" width="527" height="63" rx="10"/><text class="c" x="1677" y="2706" style="font-size:24px">卒　業　研　究</text></g>

<g id="n-kanpo-a"><rect class="k" x="227" y="2804" width="261" height="32" rx="7"/><text x="246" y="2826">漢方入門</text><text x="372" y="2826">伝統医薬学</text></g>
<g id="n-kanpo-b"><rect class="k" x="523" y="2804" width="266" height="32" rx="7"/><text x="540" y="2826">本草学</text><text x="655" y="2826">漢方薬効解析Ⅰ</text></g>
<g id="n-kanpo-c"><rect class="k" x="839" y="2804" width="150" height="32" rx="7"/><text class="c" x="914" y="2826">基礎漢方処方学</text></g>
<g id="n-kanpo-d"><rect class="k" x="1326" y="2787" width="140" height="62" rx="8"/><text class="c" x="1396" y="2814">基礎漢方薬学Ⅱ</text><text class="c" x="1396" y="2841">漢方薬効解析Ⅱ</text></g>
<g id="n-kanpo-e"><rect class="k" x="1625" y="2807" width="136" height="31" rx="7"/><text class="c" x="1693" y="2829">漢方処方解析Ⅰ</text></g>
<g id="n-kanpo-f"><rect class="k" x="1793" y="2770" width="149" height="92" rx="10"/><text class="c" x="1867" y="2800">臨床漢方治療学</text><text class="c" x="1867" y="2826">漢方処方解析</text><text class="c" x="1867" y="2851">漢方治療学総論</text></g>
</g>

<g id="connectors-over">
<path class="l R" d="M328,403 H2161"/>
</g>
</svg>
